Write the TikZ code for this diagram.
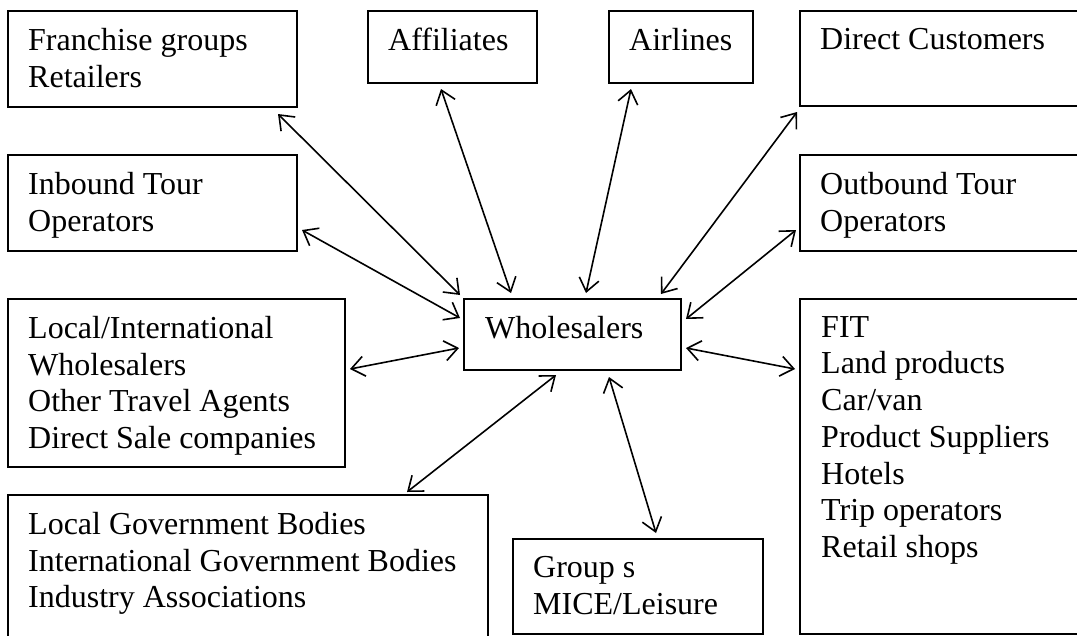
\documentclass[tikz,border=0pt]{standalone}
\usepackage{fontspec}
\setmainfont{Liberation Serif}
\usetikzlibrary{arrows.meta,positioning}

\begin{document}
\begin{tikzpicture}[x=1pt,y=-1pt,
  box/.style={draw,line width=2pt,anchor=north west,inner sep=0pt},
  txt/.style={anchor=north west,align=left,inner sep=0pt,font=\fontsize{32}{36.7}\selectfont},
  link/.style={{Straight Barb[length=13pt,width=20pt]}-{Straight Barb[length=13pt,width=20pt]},line width=1.6pt}]
\useasboundingbox (0,0) rectangle (1077,635);
% boxes
\node[box,minimum width=289pt,minimum height=96pt] (franchise) at (7,10) {};
\node[box,minimum width=169pt,minimum height=72pt] (affiliates) at (367,10) {};
\node[box,minimum width=144pt,minimum height=72pt] (airlines) at (608,10) {};
\node[box,minimum width=290pt,minimum height=95pt] (direct) at (799,10) {};
\node[box,minimum width=289pt,minimum height=96pt] (inbound) at (7,154) {};
\node[box,minimum width=290pt,minimum height=96pt] (outbound) at (799,154) {};
\node[box,minimum width=337pt,minimum height=168pt] (localintl) at (7,298) {};
\node[box,minimum width=217pt,minimum height=71pt] (whole) at (463,298) {};
\node[box,minimum width=290pt,minimum height=335pt] (fit) at (799,298) {};
\node[box,minimum width=480pt,minimum height=150pt] (gov) at (7,494) {};
\node[box,minimum width=250pt,minimum height=95pt] (groups) at (512,538) {};
% texts
\node[txt] (franchiseT) at ([shift={(21,18.1)}]franchise.north west) {Franchise groups\\Retailers};
\node[txt] (affiliatesT) at ([shift={(21,18.1)}]affiliates.north west) {Affiliates};
\node[txt] (airlinesT) at ([shift={(21,18.1)}]airlines.north west) {Airlines};
\node[txt] (directT) at ([shift={(21,18.1)}]direct.north west) {Direct Customers};
\node[txt] (inboundT) at ([shift={(21,18.1)}]inbound.north west) {Inbound Tour\\Operators};
\node[txt] (outboundT) at ([shift={(21,18.1)}]outbound.north west) {Outbound Tour\\Operators};
\node[txt] (localintlT) at ([shift={(21,18.1)}]localintl.north west) {Local/International\\Wholesalers\\Other Travel Agents\\Direct Sale companies};
\node[txt] (wholeT) at ([shift={(22,18.1)}]whole.north west) {Wholesalers};
\node[txt] (fitT) at ([shift={(22,18.1)}]fit.north west) {FIT\\Land products\\Car/van\\Product Suppliers\\Hotels\\Trip operators\\Retail shops};
\node[txt] (govT) at ([shift={(21,18.1)}]gov.north west) {Local Government Bodies\\International Government Bodies\\Industry Associations};
\node[txt] (groupsT) at ([shift={(21,18.1)}]groups.north west) {Group s\\MICE/Leisure};
% links
\path[link]
  ([shift={(-20,6)}]franchise.south east) edge ([shift={(-3,-3)}]whole.north west)
  ([shift={(-11.5,5)}]affiliates.south) edge ([shift={(-61.5,-5)}]whole.north)
  ([shift={(-50,5)}]airlines.south) edge ([shift={(13.5,-5)}]whole.north)
  ([shift={(-2,5)}]direct.south west) edge ([shift={(-21,-4)}]whole.north east)
  ([shift={(4,27)}]inbound.east) edge ([shift={(-3,-16.5)}]whole.west)
  ([shift={(-3,27)}]outbound.west) edge ([shift={(4,-15.5)}]whole.east)
  ([shift={(4,-14)}]localintl.east) edge ([shift={(-4,13.5)}]whole.west)
  ([shift={(4,13.5)}]whole.east) edge ([shift={(-4,71)}]fit.north west)
  ([shift={(-16.5,4)}]whole.south) edge ([shift={(159,-2)}]gov.north)
  ([shift={(36.5,6)}]whole.south) edge ([shift={(18,-5)}]groups.north);
\end{tikzpicture}
\end{document}
